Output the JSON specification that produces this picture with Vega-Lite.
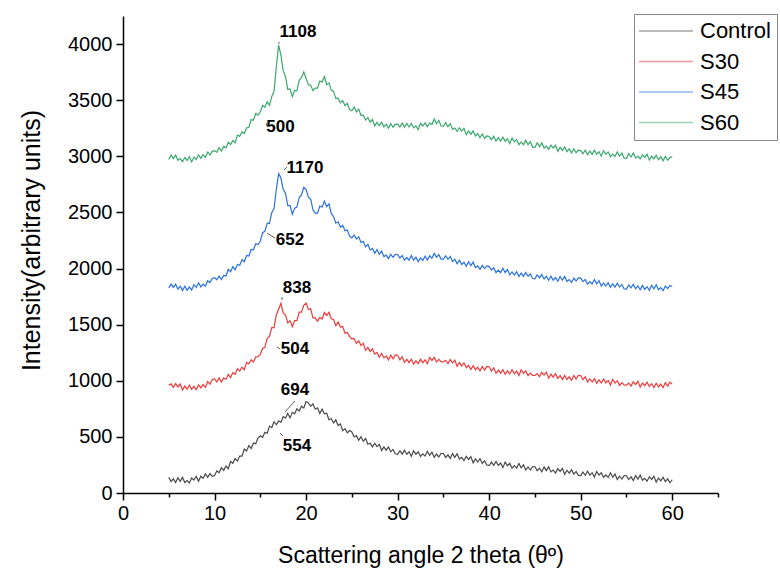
{
  "$schema": "https://vega.github.io/schema/vega-lite/v6.json",
  "width": 595,
  "height": 477,
  "autosize": {"type": "none"},
  "padding": {"left": 123, "top": 16, "right": 62, "bottom": 77},
  "background": "white",
  "config": {
    "view": {"stroke": null},
    "font": "Liberation Sans",
    "axis": {
      "domainColor": "black", "domainWidth": 1.5, "tickColor": "black", "tickWidth": 1.5,
      "labelColor": "black", "titleColor": "black", "labelFont": "Liberation Sans", "titleFont": "Liberation Sans",
      "labelFontSize": 20, "titleFontWeight": "normal", "grid": false, "labelOverlap": false, "labelFlush": false
    },
    "legend": {"labelFont": "Liberation Sans"}
  },
  "datasets": {
    "xrd": [
{"x":5,"Control":139,"S30":959,"S45":1828,"S60":2971},
{"x":5.25,"Control":103,"S30":972,"S45":1861,"S60":3012},
{"x":5.5,"Control":126,"S30":941,"S45":1832,"S60":2979},
{"x":5.75,"Control":93,"S30":974,"S45":1860,"S60":3011},
{"x":6,"Control":136,"S30":945,"S45":1817,"S60":2964},
{"x":6.25,"Control":104,"S30":971,"S45":1841,"S60":2980},
{"x":6.5,"Control":139,"S30":917,"S45":1805,"S60":2952},
{"x":6.75,"Control":94,"S30":952,"S45":1842,"S60":2989},
{"x":7,"Control":111,"S30":925,"S45":1806,"S60":2963},
{"x":7.25,"Control":90,"S30":960,"S45":1835,"S60":2996},
{"x":7.5,"Control":134,"S30":924,"S45":1809,"S60":2950},
{"x":7.75,"Control":116,"S30":951,"S45":1857,"S60":2992},
{"x":8,"Control":149,"S30":920,"S45":1831,"S60":2972},
{"x":8.25,"Control":104,"S30":964,"S45":1873,"S60":3013},
{"x":8.5,"Control":149,"S30":936,"S45":1837,"S60":2982},
{"x":8.75,"Control":131,"S30":966,"S45":1862,"S60":3016},
{"x":9,"Control":170,"S30":941,"S45":1843,"S60":2990},
{"x":9.25,"Control":140,"S30":992,"S45":1891,"S60":3037},
{"x":9.5,"Control":173,"S30":969,"S45":1875,"S60":3011},
{"x":9.75,"Control":148,"S30":1011,"S45":1912,"S60":3044},
{"x":10,"Control":155,"S30":1017,"S45":1919,"S60":3051},
{"x":10.25,"Control":197,"S30":989,"S45":1900,"S60":3035},
{"x":10.5,"Control":180,"S30":1026,"S45":1933,"S60":3077},
{"x":10.75,"Control":226,"S30":989,"S45":1903,"S60":3046},
{"x":11,"Control":202,"S30":1026,"S45":1938,"S60":3088},
{"x":11.25,"Control":240,"S30":1012,"S45":1934,"S60":3075},
{"x":11.5,"Control":216,"S30":1057,"S45":1992,"S60":3125},
{"x":11.75,"Control":280,"S30":1029,"S45":1971,"S60":3105},
{"x":12,"Control":265,"S30":1073,"S45":2016,"S60":3141},
{"x":12.25,"Control":307,"S30":1058,"S45":1989,"S60":3121},
{"x":12.5,"Control":286,"S30":1108,"S45":2036,"S60":3189},
{"x":12.75,"Control":329,"S30":1086,"S45":2029,"S60":3178},
{"x":13,"Control":329,"S30":1121,"S45":2079,"S60":3218},
{"x":13.25,"Control":391,"S30":1098,"S45":2061,"S60":3203},
{"x":13.5,"Control":374,"S30":1164,"S45":2116,"S60":3253},
{"x":13.75,"Control":422,"S30":1150,"S45":2111,"S60":3259},
{"x":14,"Control":396,"S30":1188,"S45":2170,"S60":3327},
{"x":14.25,"Control":445,"S30":1168,"S45":2167,"S60":3321},
{"x":14.5,"Control":439,"S30":1213,"S45":2221,"S60":3381},
{"x":14.75,"Control":490,"S30":1214,"S45":2213,"S60":3366},
{"x":15,"Control":509,"S30":1234,"S45":2243,"S60":3396},
{"x":15.25,"Control":496,"S30":1288,"S45":2319,"S60":3454},
{"x":15.5,"Control":541,"S30":1298,"S45":2332,"S60":3436},
{"x":15.75,"Control":531,"S30":1378,"S45":2403,"S60":3485},
{"x":16,"Control":596,"S30":1395,"S45":2402,"S60":3454},
{"x":16.25,"Control":582,"S30":1474,"S45":2498,"S60":3533},
{"x":16.5,"Control":635,"S30":1473,"S45":2535,"S60":3578},
{"x":16.75,"Control":608,"S30":1586,"S45":2704,"S60":3798},
{"x":17,"Control":643,"S30":1637,"S45":2845,"S60":3990},
{"x":17.25,"Control":629,"S30":1690,"S45":2806,"S60":3904},
{"x":17.5,"Control":680,"S30":1602,"S45":2706,"S60":3763},
{"x":17.75,"Control":669,"S30":1588,"S45":2671,"S60":3711},
{"x":18,"Control":709,"S30":1515,"S45":2561,"S60":3597},
{"x":18.25,"Control":669,"S30":1534,"S45":2562,"S60":3600},
{"x":18.5,"Control":719,"S30":1481,"S45":2484,"S60":3532},
{"x":18.75,"Control":706,"S30":1536,"S45":2538,"S60":3588},
{"x":19,"Control":750,"S30":1536,"S45":2548,"S60":3585},
{"x":19.25,"Control":730,"S30":1611,"S45":2633,"S60":3679},
{"x":19.5,"Control":773,"S30":1611,"S45":2655,"S60":3701},
{"x":19.75,"Control":758,"S30":1672,"S45":2724,"S60":3751},
{"x":20,"Control":815,"S30":1692,"S45":2704,"S60":3696},
{"x":20.25,"Control":803,"S30":1636,"S45":2635,"S60":3636},
{"x":20.5,"Control":772,"S30":1641,"S45":2618,"S60":3634},
{"x":20.75,"Control":795,"S30":1561,"S45":2523,"S60":3585},
{"x":21,"Control":747,"S30":1561,"S45":2493,"S60":3608},
{"x":21.25,"Control":759,"S30":1531,"S45":2494,"S60":3607},
{"x":21.5,"Control":708,"S30":1564,"S45":2557,"S60":3670},
{"x":21.75,"Control":747,"S30":1550,"S45":2546,"S60":3662},
{"x":22,"Control":705,"S30":1608,"S45":2601,"S60":3711},
{"x":22.25,"Control":711,"S30":1582,"S45":2551,"S60":3638},
{"x":22.5,"Control":653,"S30":1610,"S45":2576,"S60":3654},
{"x":22.75,"Control":661,"S30":1552,"S45":2491,"S60":3590},
{"x":23,"Control":624,"S30":1546,"S45":2464,"S60":3578},
{"x":23.25,"Control":652,"S30":1491,"S45":2404,"S60":3516},
{"x":23.5,"Control":601,"S30":1524,"S45":2416,"S60":3518},
{"x":23.75,"Control":616,"S30":1478,"S45":2368,"S60":3477},
{"x":24,"Control":556,"S30":1483,"S45":2385,"S60":3497},
{"x":24.25,"Control":574,"S30":1424,"S45":2336,"S60":3451},
{"x":24.5,"Control":536,"S30":1431,"S45":2344,"S60":3471},
{"x":24.75,"Control":557,"S30":1393,"S45":2289,"S60":3416},
{"x":25,"Control":544,"S30":1374,"S45":2273,"S60":3406},
{"x":25.25,"Control":499,"S30":1376,"S45":2299,"S60":3439},
{"x":25.5,"Control":511,"S30":1333,"S45":2262,"S60":3396},
{"x":25.75,"Control":469,"S30":1356,"S45":2283,"S60":3420},
{"x":26,"Control":501,"S30":1315,"S45":2232,"S60":3364},
{"x":26.25,"Control":461,"S30":1333,"S45":2242,"S60":3366},
{"x":26.5,"Control":487,"S30":1271,"S45":2193,"S60":3323},
{"x":26.75,"Control":434,"S30":1297,"S45":2215,"S60":3346},
{"x":27,"Control":443,"S30":1262,"S45":2166,"S60":3305},
{"x":27.25,"Control":411,"S30":1285,"S45":2179,"S60":3328},
{"x":27.5,"Control":443,"S30":1237,"S45":2136,"S60":3271},
{"x":27.75,"Control":413,"S30":1253,"S45":2169,"S60":3302},
{"x":28,"Control":434,"S30":1210,"S45":2126,"S60":3272},
{"x":28.25,"Control":378,"S30":1243,"S45":2156,"S60":3303},
{"x":28.5,"Control":411,"S30":1204,"S45":2107,"S60":3262},
{"x":28.75,"Control":382,"S30":1222,"S45":2119,"S60":3286},
{"x":29,"Control":410,"S30":1186,"S45":2088,"S60":3250},
{"x":29.25,"Control":367,"S30":1229,"S45":2126,"S60":3290},
{"x":29.5,"Control":388,"S30":1196,"S45":2100,"S60":3259},
{"x":29.75,"Control":350,"S30":1230,"S45":2127,"S60":3285},
{"x":30,"Control":345,"S30":1227,"S45":2124,"S60":3286},
{"x":30.25,"Control":375,"S30":1187,"S45":2094,"S60":3262},
{"x":30.5,"Control":346,"S30":1214,"S45":2116,"S60":3297},
{"x":30.75,"Control":381,"S30":1165,"S45":2074,"S60":3259},
{"x":31,"Control":345,"S30":1191,"S45":2098,"S60":3293},
{"x":31.25,"Control":367,"S30":1162,"S45":2075,"S60":3261},
{"x":31.5,"Control":327,"S30":1192,"S45":2115,"S60":3293},
{"x":31.75,"Control":376,"S30":1149,"S45":2075,"S60":3253},
{"x":32,"Control":345,"S30":1178,"S45":2101,"S60":3271},
{"x":32.25,"Control":367,"S30":1153,"S45":2060,"S60":3238},
{"x":32.5,"Control":326,"S30":1193,"S45":2094,"S60":3294},
{"x":32.75,"Control":349,"S30":1161,"S45":2072,"S60":3270},
{"x":33,"Control":329,"S30":1186,"S45":2109,"S60":3298},
{"x":33.25,"Control":371,"S30":1152,"S45":2075,"S60":3264},
{"x":33.5,"Control":335,"S30":1207,"S45":2113,"S60":3296},
{"x":33.75,"Control":364,"S30":1181,"S45":2092,"S60":3283},
{"x":34,"Control":318,"S30":1208,"S45":2135,"S60":3332},
{"x":34.25,"Control":347,"S30":1167,"S45":2101,"S60":3292},
{"x":34.5,"Control":321,"S30":1191,"S45":2124,"S60":3319},
{"x":34.75,"Control":353,"S30":1170,"S45":2084,"S60":3270},
{"x":35,"Control":352,"S30":1169,"S45":2083,"S60":3266},
{"x":35.25,"Control":317,"S30":1183,"S45":2114,"S60":3302},
{"x":35.5,"Control":340,"S30":1153,"S45":2082,"S60":3264},
{"x":35.75,"Control":308,"S30":1188,"S45":2108,"S60":3291},
{"x":36,"Control":351,"S30":1160,"S45":2062,"S60":3239},
{"x":36.25,"Control":317,"S30":1184,"S45":2082,"S60":3252},
{"x":36.5,"Control":350,"S30":1128,"S45":2043,"S60":3221},
{"x":36.75,"Control":303,"S30":1161,"S45":2075,"S60":3254},
{"x":37,"Control":318,"S30":1132,"S45":2036,"S60":3225},
{"x":37.25,"Control":289,"S30":1160,"S45":2056,"S60":3249},
{"x":37.5,"Control":326,"S30":1117,"S45":2021,"S60":3193},
{"x":37.75,"Control":299,"S30":1138,"S45":2061,"S60":3226},
{"x":38,"Control":324,"S30":1100,"S45":2026,"S60":3197},
{"x":38.25,"Control":269,"S30":1135,"S45":2057,"S60":3225},
{"x":38.5,"Control":304,"S30":1099,"S45":2009,"S60":3182},
{"x":38.75,"Control":276,"S30":1120,"S45":2023,"S60":3203},
{"x":39,"Control":305,"S30":1086,"S45":1993,"S60":3165},
{"x":39.25,"Control":263,"S30":1128,"S45":2028,"S60":3199},
{"x":39.5,"Control":286,"S30":1095,"S45":2000,"S60":3161},
{"x":39.75,"Control":249,"S30":1128,"S45":2024,"S60":3181},
{"x":40,"Control":245,"S30":1125,"S45":2019,"S60":3176},
{"x":40.25,"Control":275,"S30":1087,"S45":1987,"S60":3148},
{"x":40.5,"Control":246,"S30":1115,"S45":2007,"S60":3178},
{"x":40.75,"Control":281,"S30":1067,"S45":1964,"S60":3136},
{"x":41,"Control":245,"S30":1095,"S45":1986,"S60":3166},
{"x":41.25,"Control":267,"S30":1068,"S45":1963,"S60":3136},
{"x":41.5,"Control":226,"S30":1099,"S45":2003,"S60":3171},
{"x":41.75,"Control":275,"S30":1057,"S45":1964,"S60":3135},
{"x":42,"Control":243,"S30":1088,"S45":1991,"S60":3156},
{"x":42.25,"Control":264,"S30":1061,"S45":1943,"S60":3114},
{"x":42.5,"Control":221,"S30":1098,"S45":1970,"S60":3162},
{"x":42.75,"Control":244,"S30":1063,"S45":1942,"S60":3129},
{"x":43,"Control":222,"S30":1086,"S45":1972,"S60":3148},
{"x":43.25,"Control":263,"S30":1047,"S45":1929,"S60":3104},
{"x":43.5,"Control":224,"S30":1097,"S45":1959,"S60":3126},
{"x":43.75,"Control":252,"S30":1066,"S45":1930,"S60":3103},
{"x":44,"Control":204,"S30":1088,"S45":1965,"S60":3142},
{"x":44.25,"Control":232,"S30":1046,"S45":1930,"S60":3103},
{"x":44.5,"Control":205,"S30":1069,"S45":1951,"S60":3130},
{"x":44.75,"Control":236,"S30":1048,"S45":1911,"S60":3082},
{"x":45,"Control":234,"S30":1047,"S45":1908,"S60":3079},
{"x":45.25,"Control":199,"S30":1064,"S45":1944,"S60":3120},
{"x":45.5,"Control":221,"S30":1037,"S45":1917,"S60":3087},
{"x":45.75,"Control":189,"S30":1075,"S45":1948,"S60":3120},
{"x":46,"Control":231,"S30":1050,"S45":1907,"S60":3074},
{"x":46.25,"Control":199,"S30":1077,"S45":1931,"S60":3090},
{"x":46.5,"Control":233,"S30":1023,"S45":1895,"S60":3062},
{"x":46.75,"Control":188,"S30":1059,"S45":1932,"S60":3099},
{"x":47,"Control":205,"S30":1032,"S45":1896,"S60":3073},
{"x":47.25,"Control":178,"S30":1063,"S45":1919,"S60":3098},
{"x":47.5,"Control":217,"S30":1022,"S45":1886,"S60":3044},
{"x":47.75,"Control":192,"S30":1046,"S45":1929,"S60":3079},
{"x":48,"Control":219,"S30":1010,"S45":1896,"S60":3052},
{"x":48.25,"Control":166,"S30":1047,"S45":1930,"S60":3083},
{"x":48.5,"Control":203,"S30":1012,"S45":1885,"S60":3042},
{"x":48.75,"Control":177,"S30":1035,"S45":1902,"S60":3066},
{"x":49,"Control":208,"S30":1004,"S45":1876,"S60":3030},
{"x":49.25,"Control":168,"S30":1047,"S45":1914,"S60":3067},
{"x":49.5,"Control":192,"S30":1015,"S45":1889,"S60":3031},
{"x":49.75,"Control":157,"S30":1049,"S45":1916,"S60":3054},
{"x":50,"Control":155,"S30":1047,"S45":1914,"S60":3051},
{"x":50.25,"Control":186,"S30":1009,"S45":1883,"S60":3024},
{"x":50.5,"Control":158,"S30":1036,"S45":1903,"S60":3055},
{"x":50.75,"Control":194,"S30":989,"S45":1861,"S60":3014},
{"x":51,"Control":159,"S30":1016,"S45":1883,"S60":3046},
{"x":51.25,"Control":181,"S30":989,"S45":1862,"S60":3018},
{"x":51.5,"Control":142,"S30":1019,"S45":1902,"S60":3054},
{"x":51.75,"Control":191,"S30":978,"S45":1864,"S60":3019},
{"x":52,"Control":160,"S30":1008,"S45":1891,"S60":3041},
{"x":52.25,"Control":181,"S30":980,"S45":1844,"S60":3001},
{"x":52.5,"Control":138,"S30":1016,"S45":1871,"S60":3050},
{"x":52.75,"Control":161,"S30":980,"S45":1844,"S60":3018},
{"x":53,"Control":139,"S30":1002,"S45":1874,"S60":3039},
{"x":53.25,"Control":180,"S30":962,"S45":1833,"S60":2997},
{"x":53.5,"Control":141,"S30":1011,"S45":1863,"S60":3020},
{"x":53.75,"Control":169,"S30":979,"S45":1835,"S60":2998},
{"x":54,"Control":121,"S30":1000,"S45":1870,"S60":3039},
{"x":54.25,"Control":150,"S30":959,"S45":1835,"S60":3001},
{"x":54.5,"Control":124,"S30":983,"S45":1858,"S60":3030},
{"x":54.75,"Control":155,"S30":962,"S45":1818,"S60":2983},
{"x":55,"Control":154,"S30":961,"S45":1817,"S60":2982},
{"x":55.25,"Control":120,"S30":979,"S45":1853,"S60":3025},
{"x":55.5,"Control":144,"S30":953,"S45":1828,"S60":2994},
{"x":55.75,"Control":112,"S30":991,"S45":1859,"S60":3028},
{"x":56,"Control":156,"S30":967,"S45":1820,"S60":2984},
{"x":56.25,"Control":124,"S30":995,"S45":1845,"S60":3002},
{"x":56.5,"Control":159,"S30":943,"S45":1810,"S60":2976},
{"x":56.75,"Control":114,"S30":980,"S45":1848,"S60":3014},
{"x":57,"Control":131,"S30":956,"S45":1814,"S60":2990},
{"x":57.25,"Control":105,"S30":988,"S45":1838,"S60":3018},
{"x":57.5,"Control":145,"S30":949,"S45":1806,"S60":2966},
{"x":57.75,"Control":121,"S30":974,"S45":1850,"S60":3002},
{"x":58,"Control":149,"S30":940,"S45":1819,"S60":2977},
{"x":58.25,"Control":97,"S30":979,"S45":1855,"S60":3009},
{"x":58.5,"Control":134,"S30":945,"S45":1811,"S60":2970},
{"x":58.75,"Control":108,"S30":970,"S45":1830,"S60":2995},
{"x":59,"Control":140,"S30":939,"S45":1804,"S60":2961},
{"x":59.25,"Control":101,"S30":983,"S45":1844,"S60":2999},
{"x":59.5,"Control":126,"S30":953,"S45":1821,"S60":2965},
{"x":59.75,"Control":91,"S30":988,"S45":1849,"S60":2989},
{"x":60,"Control":118,"S30":970,"S45":1840,"S60":2995}
    ],
    "labels": [
      {"x":19.12,"y":4107,"t":"1108"},
      {"x":17.2,"y":3261,"t":"500"},
      {"x":19.88,"y":2896,"t":"1170"},
      {"x":18.24,"y":2254,"t":"652"},
      {"x":19.0,"y":1826,"t":"838"},
      {"x":18.79,"y":1283,"t":"504"},
      {"x":18.79,"y":918,"t":"694"},
      {"x":19.0,"y":419,"t":"554"}
    ],
    "leaders": [
      {"x":17.7,"y":722,"x2":18.79,"y2":820},
      {"x":17.15,"y":535,"x2":17.48,"y2":508},
      {"x":16.82,"y":1301,"x2":17.15,"y2":1283},
      {"x":15.73,"y":2316,"x2":16.6,"y2":2272},
      {"x":17.59,"y":2878,"x2":17.92,"y2":2904},
      {"x":17.37,"y":1746,"x2":17.37,"y2":1719},
      {"x":15.62,"y":3296,"x2":15.73,"y2":3269},
      {"x":17.04,"y":4018,"x2":17.04,"y2":4000}
    ]
  },
  "layer": [
    {
      "data": {"name": "xrd"},
      "transform": [{"fold": ["Control", "S30", "S45", "S60"], "as": ["series", "y"]}],
      "mark": {"type": "line", "strokeWidth": 1.2, "clip": true},
      "encoding": {
        "x": {
          "field": "x", "type": "quantitative",
          "scale": {"domain": [0, 65], "nice": false, "zero": false},
          "axis": {
            "title": "Scattering angle 2 theta (θº)",
            "titleFontSize": 23,
            "values": [0,5,10,15,20,25,30,35,40,45,50,55,60,65],
            "labelExpr": "datum.value % 10 === 0 ? datum.label : ''",
            "tickSize": {"condition": {"test": "datum.value % 10 === 0", "value": 7}, "value": 4},
            "labelPadding": 3, "titlePadding": 21
          }
        },
        "y": {
          "field": "y", "type": "quantitative",
          "scale": {"domain": [0, 4250], "nice": false, "zero": false},
          "axis": {
            "title": "Intensity(arbitrary units)",
            "titleFontSize": 25,
            "titleY": 224,
            "values": [0,250,500,750,1000,1250,1500,1750,2000,2250,2500,2750,3000,3250,3500,3750,4000,4250],
            "labelExpr": "datum.value % 500 === 0 ? datum.label : ''",
            "tickSize": {"condition": {"test": "datum.value % 500 === 0", "value": 7}, "value": 4},
            "format": "d",
            "labelPadding": 4, "titlePadding": 23
          }
        },
        "color": {
          "field": "series", "type": "nominal",
          "scale": {"domain": ["Control", "S30", "S45", "S60"], "range": ["#4a4a4a", "#ee3b3b", "#2a72de", "#3aa86c"]},
          "legend": {
            "orient": "none", "legendX": 511, "legendY": -2, "title": null,
            "symbolType": "M-1.33,0H4.67", "symbolSize": 324, "symbolStrokeWidth": 1.5, "symbolOpacity": 0.5,
            "labelFontSize": 22, "labelColor": "black", "labelOffset": 38, "rowPadding": 8.5,
            "padding": 6, "strokeColor": "#888888", "fillColor": "white"
          }
        }
      }
    },
    {
      "data": {"name": "leaders"},
      "mark": {"type": "rule", "color": "#333333", "strokeWidth": 0.8},
      "encoding": {
        "x": {"field": "x", "type": "quantitative"},
        "y": {"field": "y", "type": "quantitative"},
        "x2": {"field": "x2"},
        "y2": {"field": "y2"}
      }
    },
    {
      "data": {"name": "labels"},
      "mark": {"type": "text", "font": "Liberation Sans", "fontWeight": "bold", "fontSize": 17, "align": "center", "baseline": "middle", "color": "black"},
      "encoding": {
        "x": {"field": "x", "type": "quantitative"},
        "y": {"field": "y", "type": "quantitative"},
        "text": {"field": "t"}
      }
    }
  ]
}
